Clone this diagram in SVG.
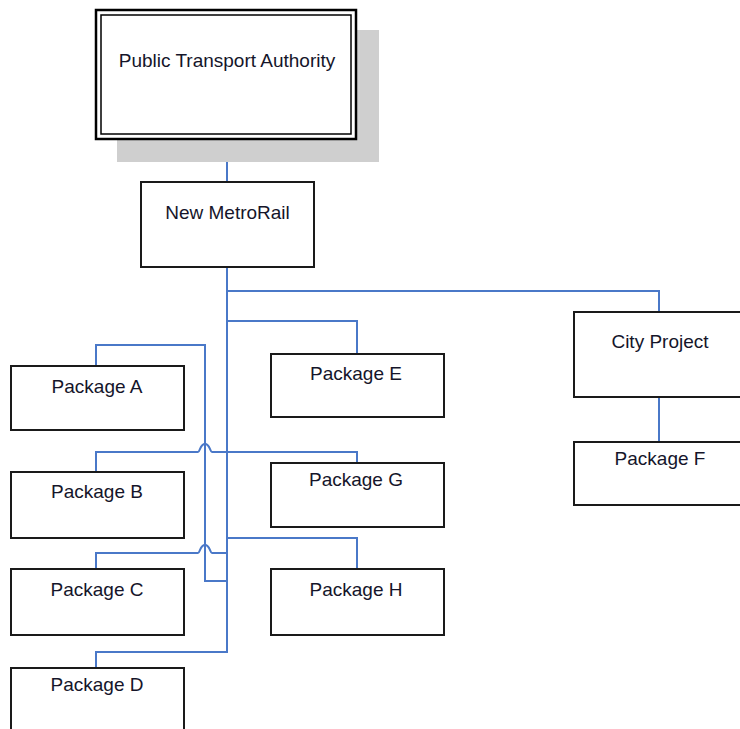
<svg xmlns="http://www.w3.org/2000/svg" width="740" height="729" viewBox="0 0 740 729">
<style>
.box{fill:#fff;stroke:#1a1a1a;stroke-width:2}
.lbl{font-family:"Liberation Sans",Arial,sans-serif;font-size:19px;fill:#15152a;text-anchor:middle}
.con{fill:none;stroke:#4a78c8;stroke-width:2}
</style>
<rect width="740" height="729" fill="#fff"/>
<g id="connectors">
<path class="con" d="M227,139 V182"/>
<path class="con" d="M227,267 V652 H96 V668"/>
<path class="con" d="M227,291 H659 V312"/>
<path class="con" d="M659,397 V442"/>
<path class="con" d="M227,321 H357 V354"/>
<path class="con" d="M227,581 H205 V345 H96 V366"/>
<path class="con" d="M227,452 H357 V463"/>
<path class="con" d="M227,538 H357 V569"/>
<path class="con" d="M227,452 H212 C210,452 210,444 205,444 C200,444 200,452 198,452 H96 V472"/>
<path class="con" d="M227,553 H212 C210,553 210,545 205,545 C200,545 200,553 198,553 H96 V569"/>
</g>
<g id="pta">
<rect x="117" y="30" width="262" height="132" fill="#cfcfcf"/>
<rect x="96" y="10" width="260" height="129" fill="#fff" stroke="#000" stroke-width="2.5"/>
<rect x="101" y="15" width="250" height="119" fill="none" stroke="#000" stroke-width="1.5"/>
<text class="lbl" x="227" y="67">Public Transport Authority</text>
</g>
<g id="newmetrorail">
<rect class="box" x="141" y="182" width="173" height="85"/>
<text class="lbl" x="227.5" y="219">New MetroRail</text>
</g>
<g id="cityproject">
<rect class="box" x="574" y="312" width="180" height="85"/>
<text class="lbl" x="660" y="348">City Project</text>
</g>
<g id="packageF">
<rect class="box" x="574" y="442" width="180" height="63"/>
<text class="lbl" x="660" y="465">Package F</text>
</g>
<g id="packageA">
<rect class="box" x="11" y="366" width="173" height="64"/>
<text class="lbl" x="97" y="393">Package A</text>
</g>
<g id="packageB">
<rect class="box" x="11" y="472" width="173" height="66"/>
<text class="lbl" x="97" y="498">Package B</text>
</g>
<g id="packageC">
<rect class="box" x="11" y="569" width="173" height="66"/>
<text class="lbl" x="97" y="596">Package C</text>
</g>
<g id="packageD">
<rect class="box" x="11" y="668" width="173" height="80"/>
<text class="lbl" x="97" y="691">Package D</text>
</g>
<g id="packageE">
<rect class="box" x="271" y="354" width="173" height="63"/>
<text class="lbl" x="356" y="380">Package E</text>
</g>
<g id="packageG">
<rect class="box" x="271" y="463" width="173" height="64"/>
<text class="lbl" x="356" y="486">Package G</text>
</g>
<g id="packageH">
<rect class="box" x="271" y="569" width="173" height="66"/>
<text class="lbl" x="356" y="596">Package H</text>
</g>
</svg>
